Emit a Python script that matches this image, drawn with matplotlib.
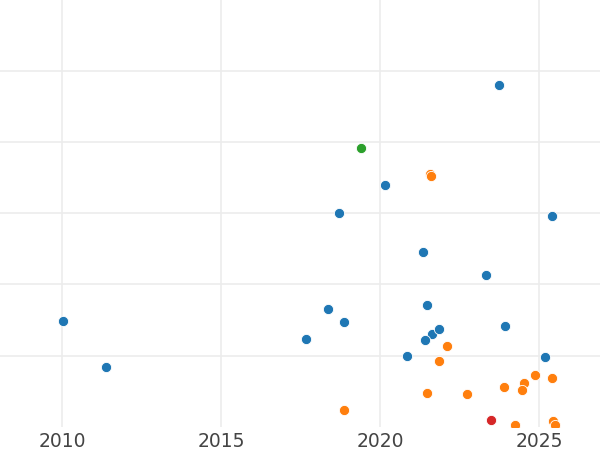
import matplotlib
matplotlib.use("Agg")
import matplotlib.pyplot as plt

# points, x = year, y in grid units (no y labels shown)
blue_x = [2010.03, 2011.38, 2017.66, 2018.36, 2018.86, 2018.69, 2020.16, 2023.73, 2025.39,
          2021.35, 2023.33, 2021.48, 2021.64, 2021.86, 2021.41, 2020.84, 2023.93, 2025.18]
blue_y = [1.48, 0.84, 1.24, 1.66, 1.47, 3.00, 3.40, 4.81, 2.96,
          2.45, 2.13, 1.71, 1.30, 1.38, 1.22, 1.00, 1.41, 0.98]

orange_x = [2021.56, 2021.58, 2022.11, 2021.85, 2021.46, 2018.87, 2022.72, 2023.90,
            2024.52, 2024.45, 2024.87, 2025.39, 2025.42, 2025.50, 2024.25]
orange_y = [3.55, 3.53, 1.14, 0.92, 0.48, 0.24, 0.46, 0.56,
            0.61, 0.52, 0.72, 0.68, 0.086, 0.03, 0.02]

green_x = [2019.40]
green_y = [3.92]

red_x = [2023.49]
red_y = [0.10]

xticks = [2010, 2015, 2020, 2025]
yticks = [1, 2, 3, 4, 5]

fig = plt.figure(figsize=(6, 4.5), dpi=100)
ax = fig.add_axes([0, 1 - 426.7 / 450, 1, 426.7 / 450])

kw = dict(s=54, edgecolor="white", linewidth=0.6, zorder=3)
ax.scatter(blue_x, blue_y, color="#1f77b4", **kw)
ax.scatter(orange_x, orange_y, color="#ff7f0e", **kw)
ax.scatter(green_x, green_y, color="#2ca02c", **kw)
ax.scatter(red_x, red_y, color="#d62728", **kw)

ax.set_xlim(2008.04, 2026.91)
ax.set_ylim(0, 6)
ax.set_xticks(xticks)
ax.set_xticklabels([str(t) for t in xticks])
ax.set_yticks(yticks)
ax.set_yticklabels([])
ax.grid(True, color="#ececec", linewidth=1.2, zorder=0)
ax.set_axisbelow(True)
for s in ax.spines.values():
    s.set_visible(False)
ax.tick_params(axis="both", length=0)
ax.tick_params(axis="x", labelsize=13.5, labelcolor="#444444", pad=3.5)

fig.savefig("out.png", dpi=100)
